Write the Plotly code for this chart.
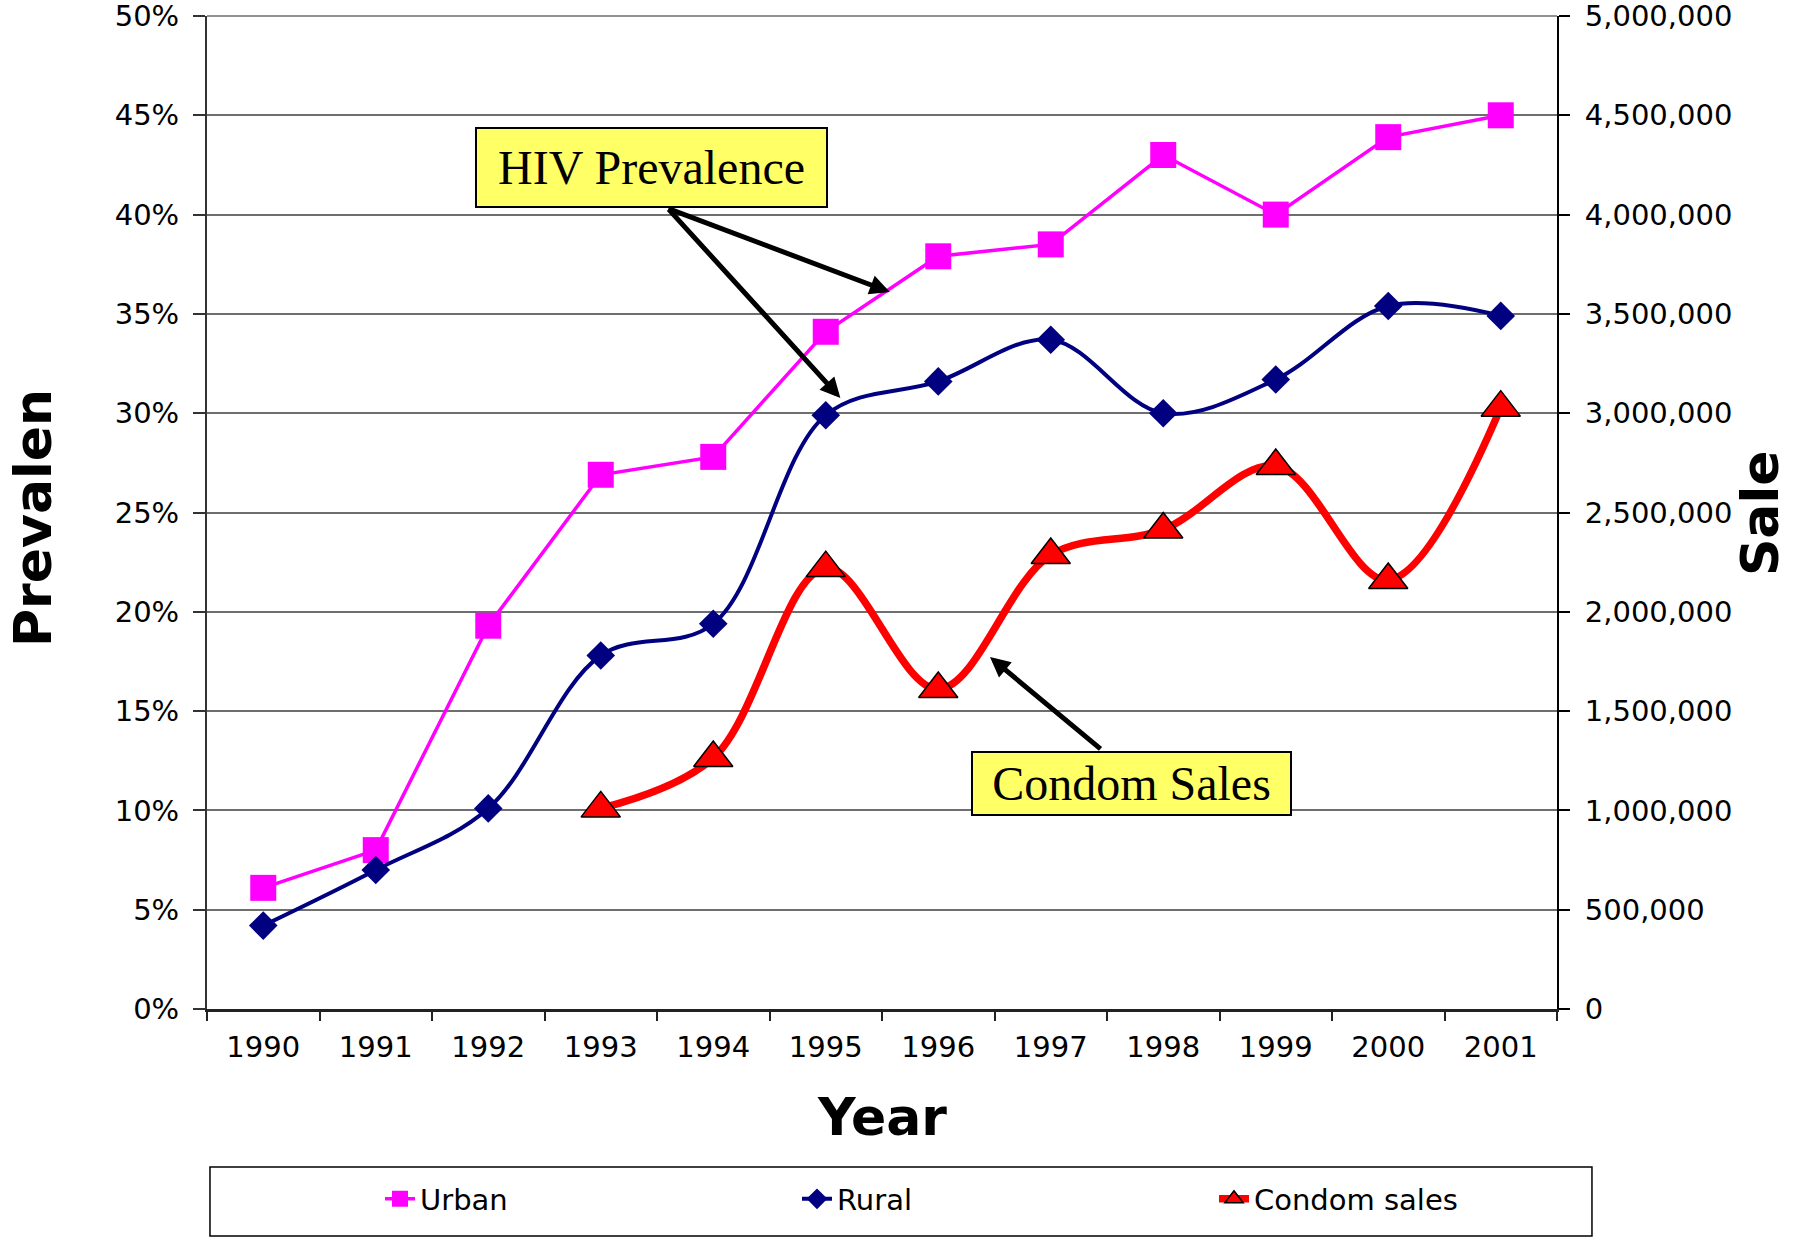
import plotly.graph_objects as go

years = [1990, 1991, 1992, 1993, 1994, 1995, 1996, 1997, 1998, 1999, 2000, 2001]
year_labels = [str(y) for y in years]
urban = [0.061, 0.080, 0.193, 0.269, 0.278, 0.341, 0.379, 0.385, 0.430, 0.400, 0.439, 0.450]
rural = [0.042, 0.070, 0.101, 0.178, 0.194, 0.299, 0.316, 0.337, 0.300, 0.317, 0.354, 0.349]
condom_years = [1993, 1994, 1995, 1996, 1997, 1998, 1999, 2000, 2001]
condom_sales = [1010000, 1264000, 2220000, 1611000, 2286000, 2414000, 2734000, 2160000, 3028000]
left_ticks = [i * 0.05 for i in range(11)]
right_ticks = [i * 500000 for i in range(11)]

boundaries = [y - 0.5 for y in years] + [years[-1] + 0.5]

TICKFONT = dict(family="DejaVu Sans", size=29, color="black")

fig = go.Figure()
fig.add_trace(go.Scatter(
    x=years, y=urban, name="Urban", mode="lines+markers",
    line=dict(color="#FF00FF", width=3.5),
    marker=dict(symbol="square", size=26, color="#FF00FF"),
))
fig.add_trace(go.Scatter(
    x=years, y=rural, name="Rural", mode="lines+markers",
    line=dict(color="#000080", width=4, shape="spline"),
    marker=dict(symbol="diamond", size=22, color="#000080"),
))
fig.add_trace(go.Scatter(
    x=condom_years, y=condom_sales, name="Condom sales", mode="lines+markers",
    yaxis="y2",
    line=dict(color="#FF0000", width=7.5, shape="spline"),
    marker=dict(symbol="triangle-up", size=34, color="#FF0000",
                line=dict(color="black", width=1.5)),
))

fig.update_layout(
    width=1801, height=1242, autosize=False,
    margin=dict(l=207, r=244, t=16, b=233, autoexpand=False),
    paper_bgcolor="white", plot_bgcolor="white",
    font=dict(family="DejaVu Sans", color="black"),
    xaxis=dict(
        range=[1989.5, 2001.5],
        tickmode="array", tickvals=years, ticktext=year_labels,
        ticks="", tickfont=TICKFONT, ticklabelstandoff=10,
        ticklabeloverflow="allow",
        showgrid=False, zeroline=False,
        showline=True, linecolor="#222222", linewidth=3,
        minor=dict(tickmode="array", tickvals=boundaries, ticks="outside",
                   ticklen=9, tickwidth=1.5, tickcolor="#222222", showgrid=False),
    ),
    yaxis=dict(
        range=[0, 0.5], tickmode="array", tickvals=left_ticks,
        tickformat=".0%", tickfont=TICKFONT, ticklabeloverflow="allow",
        ticks="outside", ticklen=12, tickwidth=1.5, tickcolor="#333333",
        ticklabelstandoff=8,
        showgrid=True, gridcolor="#6e6e6e", gridwidth=1.5,
        zeroline=False, showline=True, linecolor="#333333", linewidth=2,
    ),
    yaxis2=dict(
        range=[0, 5000000], overlaying="y", side="right",
        tickmode="array", tickvals=right_ticks, tickformat=",d",
        tickfont=TICKFONT, ticklabeloverflow="allow",
        ticks="outside", ticklen=11, tickwidth=1.5,
        tickcolor="black", ticklabelstandoff=9,
        showgrid=False, zeroline=False, showline=True,
        linecolor="black", linewidth=2,
    ),
    legend=dict(
        orientation="h", xref="container", yref="container",
        x=380 / 1801, y=(1242 - 1199) / 1242, xanchor="left", yanchor="middle",
        entrywidth=372, entrywidthmode="pixels",
        font=dict(family="DejaVu Sans", size=29, color="black"),
        bgcolor="rgba(0,0,0,0)", borderwidth=0, traceorder="normal",
    ),
    showlegend=True,
)

# top frame line of the plot area (matches the gridline style)
fig.add_shape(type="line", xref="paper", yref="paper", x0=0, x1=1, y0=1, y1=1,
              line=dict(color="#6e6e6e", width=1.5), layer="below")
# legend frame
fig.add_shape(type="rect", xref="paper", yref="paper",
              x0=0.0022, x1=1.0259, y0=-0.2286, y1=-0.1591,
              line=dict(color="black", width=1.5), fillcolor="rgba(0,0,0,0)")

BOXFONT = dict(family="Liberation Serif", size=48, color="black")
annotations = [
    dict(text="HIV Prevalence", x=1993.45, y=0.4237, xref="x", yref="y",
         showarrow=False, font=BOXFONT, bgcolor="#FFFF66", bordercolor="black",
         borderwidth=2, borderpad=0, width=349, height=77),
    dict(text="", x=1995.57, y=0.361, xref="x", yref="y", showarrow=True,
         ax=-223, ay=-84, arrowhead=2, arrowsize=0.8, arrowwidth=5, arrowcolor="black"),
    dict(text="", x=1995.13, y=0.3077, xref="x", yref="y", showarrow=True,
         ax=-173, ay=-190, arrowhead=2, arrowsize=0.8, arrowwidth=5, arrowcolor="black"),
    dict(text="", x=1996.46, y=0.1772, xref="x", yref="y", showarrow=True,
         ax=112, ay=93, arrowhead=2, arrowsize=0.8, arrowwidth=5, arrowcolor="black"),
    dict(text="Condom Sales", x=1997.72, y=0.1135, xref="x", yref="y",
         showarrow=False, font=BOXFONT, bgcolor="#FFFF66", bordercolor="black",
         borderwidth=2, borderpad=0, width=317, height=61),
    dict(text="Year", x=0.5, y=-0.1088, xref="paper", yref="paper",
         showarrow=False, xanchor="center", yanchor="middle",
         font=dict(family="DejaVu Sans", size=52, color="black", weight="bold")),
    dict(text="Prevalen", x=-0.1289, y=0.3625, xref="paper", yref="paper",
         showarrow=False, textangle=-90, xanchor="center", yanchor="bottom",
         font=dict(family="DejaVu Sans", size=52, color="black", weight="bold")),
    dict(text="Sale", x=1.1504, y=0.434, xref="paper", yref="paper",
         showarrow=False, textangle=-90, xanchor="center", yanchor="bottom",
         font=dict(family="DejaVu Sans", size=52, color="black", weight="bold")),
]
fig.update_layout(annotations=annotations)

fig.write_html("out.html", config={"displayModeBar": False},
               post_script="document.body.style.margin='0';")
